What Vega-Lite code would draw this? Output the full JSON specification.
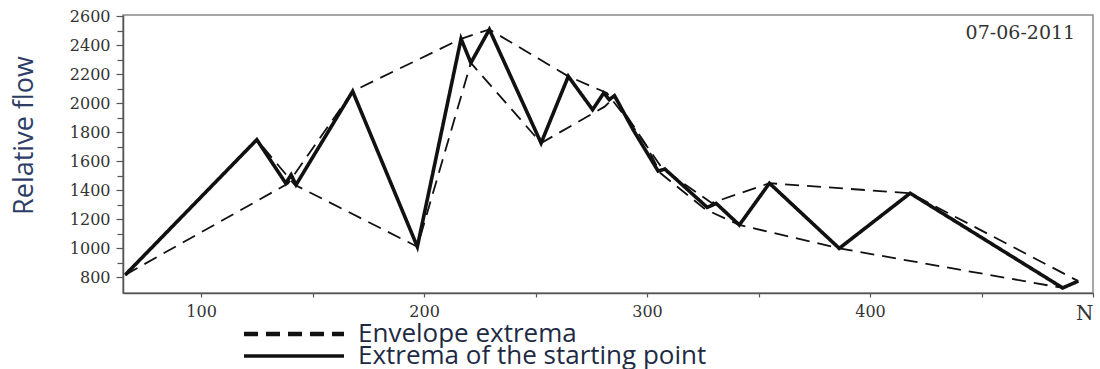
{
  "$schema": "https://vega.github.io/schema/vega-lite/v6.json",
  "width": 970,
  "height": 278,
  "autosize": {"type": "none"},
  "padding": {"left": 123, "top": 15, "right": 7, "bottom": 76},
  "background": "white",
  "config": {
    "view": {"stroke": "#8a8a8a", "strokeWidth": 1.5},
    "axis": {"grid": false, "domainColor": "#555", "domainWidth": 1.5, "tickColor": "#555", "tickWidth": 1.2, "labelColor": "#333", "labelFont": "DejaVu Serif", "labelOverlap": false}
  },
  "resolve": {"axis": {"y": "independent"}},
  "layer": [
    {
      "data": {
        "values": [
          {"path": "S", "series": "Extrema of the starting point", "x": 66, "y": 815},
          {"path": "S", "series": "Extrema of the starting point", "x": 125, "y": 1747},
          {"path": "S", "series": "Extrema of the starting point", "x": 138, "y": 1447},
          {"path": "S", "series": "Extrema of the starting point", "x": 140.4, "y": 1505},
          {"path": "S", "series": "Extrema of the starting point", "x": 142.6, "y": 1436},
          {"path": "S", "series": "Extrema of the starting point", "x": 168, "y": 2081},
          {"path": "S", "series": "Extrema of the starting point", "x": 197, "y": 1009},
          {"path": "S", "series": "Extrema of the starting point", "x": 216.6, "y": 2443},
          {"path": "S", "series": "Extrema of the starting point", "x": 221, "y": 2277},
          {"path": "S", "series": "Extrema of the starting point", "x": 229.3, "y": 2507},
          {"path": "S", "series": "Extrema of the starting point", "x": 252.5, "y": 1724},
          {"path": "S", "series": "Extrema of the starting point", "x": 264.7, "y": 2184},
          {"path": "S", "series": "Extrema of the starting point", "x": 275.6, "y": 1954},
          {"path": "S", "series": "Extrema of the starting point", "x": 280.6, "y": 2069},
          {"path": "S", "series": "Extrema of the starting point", "x": 283.1, "y": 2023},
          {"path": "S", "series": "Extrema of the starting point", "x": 285.4, "y": 2051},
          {"path": "S", "series": "Extrema of the starting point", "x": 294, "y": 1810},
          {"path": "S", "series": "Extrema of the starting point", "x": 305, "y": 1530},
          {"path": "S", "series": "Extrema of the starting point", "x": 308, "y": 1545},
          {"path": "S", "series": "Extrema of the starting point", "x": 327, "y": 1280},
          {"path": "S", "series": "Extrema of the starting point", "x": 331, "y": 1308},
          {"path": "S", "series": "Extrema of the starting point", "x": 341.4, "y": 1159},
          {"path": "S", "series": "Extrema of the starting point", "x": 354.9, "y": 1447},
          {"path": "S", "series": "Extrema of the starting point", "x": 386.2, "y": 998},
          {"path": "S", "series": "Extrema of the starting point", "x": 418, "y": 1378},
          {"path": "S", "series": "Extrema of the starting point", "x": 486.4, "y": 725},
          {"path": "S", "series": "Extrema of the starting point", "x": 493.4, "y": 772},
          {"path": "A", "series": "Envelope extrema", "x": 66, "y": 815},
          {"path": "A", "series": "Envelope extrema", "x": 139, "y": 1445},
          {"path": "A", "series": "Envelope extrema", "x": 168, "y": 2081},
          {"path": "A", "series": "Envelope extrema", "x": 216.6, "y": 2443},
          {"path": "A", "series": "Envelope extrema", "x": 229.3, "y": 2507},
          {"path": "A", "series": "Envelope extrema", "x": 264.7, "y": 2184},
          {"path": "A", "series": "Envelope extrema", "x": 282, "y": 2069},
          {"path": "A", "series": "Envelope extrema", "x": 296, "y": 1790},
          {"path": "A", "series": "Envelope extrema", "x": 307, "y": 1545},
          {"path": "A", "series": "Envelope extrema", "x": 329, "y": 1311},
          {"path": "A", "series": "Envelope extrema", "x": 354.9, "y": 1447},
          {"path": "A", "series": "Envelope extrema", "x": 418, "y": 1378},
          {"path": "A", "series": "Envelope extrema", "x": 493.4, "y": 772},
          {"path": "B", "series": "Envelope extrema", "x": 66, "y": 815},
          {"path": "B", "series": "Envelope extrema", "x": 125, "y": 1747},
          {"path": "B", "series": "Envelope extrema", "x": 142, "y": 1436},
          {"path": "B", "series": "Envelope extrema", "x": 197, "y": 1009},
          {"path": "B", "series": "Envelope extrema", "x": 221, "y": 2277},
          {"path": "B", "series": "Envelope extrema", "x": 252.5, "y": 1724},
          {"path": "B", "series": "Envelope extrema", "x": 281, "y": 1975},
          {"path": "B", "series": "Envelope extrema", "x": 285.4, "y": 2040},
          {"path": "B", "series": "Envelope extrema", "x": 300, "y": 1700},
          {"path": "B", "series": "Envelope extrema", "x": 306, "y": 1517},
          {"path": "B", "series": "Envelope extrema", "x": 326, "y": 1268},
          {"path": "B", "series": "Envelope extrema", "x": 341.4, "y": 1159},
          {"path": "B", "series": "Envelope extrema", "x": 386.2, "y": 998},
          {"path": "B", "series": "Envelope extrema", "x": 486.4, "y": 725}
        ]
      },
      "mark": {"type": "line", "color": "#111", "strokeJoin": "miter"},
      "encoding": {
        "x": {
          "field": "x", "type": "quantitative",
          "scale": {"domain": [65, 500], "nice": false, "zero": false},
          "axis": {
            "title": null,
            "values": [100, 150, 200, 250, 300, 350, 400, 450, 500],
            "labelExpr": "datum.value == 500 ? 'N' : (datum.value % 100 == 0 ? datum.label : '')",
            "tickSize": 4,
            "labelPadding": 6,
            "labelOverlap": false,
            "labelFontSize": {"condition": {"test": "datum.value == 500", "value": 20}, "value": 16}
          }
        },
        "y": {
          "field": "y", "type": "quantitative",
          "scale": {"domain": [690, 2607], "nice": false, "zero": false},
          "axis": {
            "orient": "left",
            "title": "Relative flow",
            "values": [800, 1000, 1200, 1400, 1600, 1800, 2000, 2200, 2400, 2600],
            "format": "d",
            "labelOverlap": false,
            "labelFlush": false,
            "labelBound": false,
            "tickSize": 7,
            "labelPadding": 6,
            "labelFontSize": 16,
            "titleFont": "Open Sans",
            "titleFontSize": 27,
            "titleFontWeight": "normal",
            "titleColor": "#2d3d66",
            "titleX": -91,
            "titleY": 120,
            "titleBaseline": "alphabetic",
            "titleAlign": "center"
          }
        },
        "detail": {"field": "path"},
        "strokeDash": {
          "field": "series", "type": "nominal",
          "scale": {"domain": ["Envelope extrema", "Extrema of the starting point"], "range": [[14, 8], [1, 0]]},
          "legend": {
            "orient": "none",
            "values": ["Envelope extrema"],
            "legendX": 108,
            "legendY": 306,
            "title": null,
            "padding": 0,
            "symbolType": "M0,0H100",
            "symbolSize": 4,
            "symbolStrokeColor": "#111",
            "symbolStrokeWidth": 4.5,
            "labelFont": "Open Sans",
            "labelFontSize": 26,
            "labelColor": "#1e2a44",
            "labelOffset": 101,
            "labelLimit": 600
          }
        },
        "strokeWidth": {
          "field": "series", "type": "nominal",
          "scale": {"domain": ["Extrema of the starting point", "Envelope extrema"], "range": [3.6, 1.8]},
          "legend": {
            "orient": "none",
            "values": ["Extrema of the starting point"],
            "legendX": 108,
            "legendY": 328,
            "title": null,
            "padding": 0,
            "symbolType": "M0,0H100",
            "symbolSize": 4,
            "symbolStrokeColor": "#111",
            "labelFont": "Open Sans",
            "labelFontSize": 26,
            "labelColor": "#1e2a44",
            "labelOffset": 101,
            "labelLimit": 600
          }
        }
      }
    },
    {
      "data": {"values": [{"label": "07-06-2011", "x": 492, "y": 2441}]},
      "mark": {"type": "text", "align": "right", "baseline": "alphabetic", "font": "DejaVu Serif", "fontSize": 19, "color": "#333"},
      "encoding": {
        "x": {"field": "x", "type": "quantitative"},
        "y": {"field": "y", "type": "quantitative", "axis": null},
        "text": {"field": "label"}
      }
    },
    {
      "data": {"values": [{"y": 900}, {"y": 1100}, {"y": 1300}, {"y": 1500}, {"y": 1700}, {"y": 1900}, {"y": 2100}, {"y": 2300}, {"y": 2500}]},
      "mark": {"type": "point", "opacity": 0},
      "encoding": {
        "y": {
          "field": "y", "type": "quantitative",
          "axis": {"orient": "left", "title": null, "values": [900, 1100, 1300, 1500, 1700, 1900, 2100, 2300, 2500], "labels": false, "domain": false, "tickSize": 6, "offset": 0}
        }
      }
    }
  ]
}
